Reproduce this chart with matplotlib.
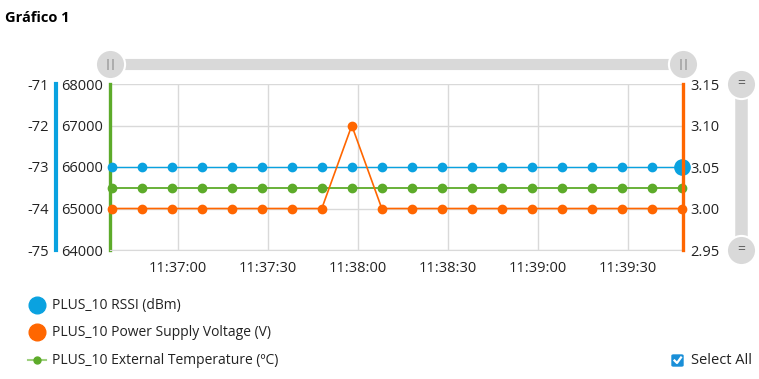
import datetime as dt
import matplotlib
matplotlib.use('Agg')
import matplotlib.pyplot as plt
import matplotlib.dates as mdates
from matplotlib.lines import Line2D
from matplotlib.patches import FancyBboxPatch

plt.rcParams['font.family'] = ['Open Sans', 'DejaVu Sans']
plt.rcParams['font.size'] = 10.5
plt.rcParams['axes.unicode_minus'] = False

# data (one sample every 10 s)
start = dt.datetime(2024, 1, 1, 11, 36, 38)
times = [start + dt.timedelta(seconds=10 * i) for i in range(20)]
rssi = [-73] * 20
voltage = [3.00] * 8 + [3.10] + [3.00] * 11
temperature = [65500] * 20

blue = '#0aa2e0'
orange = '#ff6600'
green = '#5dab2a'
W, H = 759, 379


def fx(px):
    return px / W


def fy(py):
    return 1 - py / H


fig = plt.figure(figsize=(W / 100, H / 100), dpi=100)

# main axis (temperature, 64000-68000)
ax = fig.add_axes([fx(110), fy(250), fx(683) - fx(110), fy(84) - fy(250)])
ax.set_ylim(64000, 68000)
ax.set_yticks([64000, 65000, 66000, 67000, 68000])
ax.set_xlim(times[0] - dt.timedelta(seconds=0.6), times[-1] + dt.timedelta(seconds=0.4))
ax.xaxis.set_major_locator(mdates.SecondLocator(bysecond=[0, 30]))
ax.xaxis.set_major_formatter(mdates.DateFormatter('%H:%M:%S'))
ax.grid(True, color='#d9d9d9', lw=1)
ax.set_axisbelow(True)
for s in ['top', 'right']:
    ax.spines[s].set_visible(False)
ax.spines['bottom'].set_color('#d9d9d9')
ax.spines['left'].set_color(green)
ax.spines['left'].set_linewidth(2.4)
ax.tick_params(length=0, pad=5, labelsize=10.5, colors='#222222')
ax.tick_params(axis='x', pad=8)

# rssi axis (outer left)
ax_r = ax.twinx()
ax_r.set_ylim(-75, -71)
ax_r.set_yticks([-75, -74, -73, -72, -71])
ax_r.yaxis.set_label_position('left')
ax_r.yaxis.tick_left()
ax_r.spines['left'].set_position(('axes', (56 - 110) / 573))
ax_r.spines['left'].set_color(blue)
ax_r.spines['left'].set_linewidth(3)
for s in ['top', 'right', 'bottom']:
    ax_r.spines[s].set_visible(False)
ax_r.tick_params(length=0, pad=5, labelsize=10.5, colors='#222222')

# voltage axis (right)
ax_v = ax.twinx()
ax_v.set_ylim(2.95, 3.15)
ax_v.set_yticks([2.95, 3.00, 3.05, 3.10, 3.15])
ax_v.yaxis.set_major_formatter(matplotlib.ticker.FormatStrFormatter('%.2f'))
ax_v.spines['right'].set_color(orange)
ax_v.spines['right'].set_linewidth(2.4)
for s in ['top', 'left', 'bottom']:
    ax_v.spines[s].set_visible(False)
ax_v.tick_params(length=0, pad=5, labelsize=10.5, colors='#222222')

ax.plot(times, temperature, color=green, lw=1.3, marker='o', ms=6, clip_on=False, zorder=3)
ax_v.plot(times, voltage, color=orange, lw=1.2, marker='o', ms=6, clip_on=False, zorder=3)
ax_r.plot(times, rssi, color=blue, lw=1.0, marker='o', ms=6, clip_on=False, zorder=3)
ax_r.plot(times[-1:], rssi[-1:], color=blue, marker='o', ms=11, ls='none', clip_on=False, zorder=4)

# title
fig.text(fx(5), fy(18), 'Gráfico 1', fontsize=10.5, fontweight='bold', va='center', ha='left')

# range sliders
grey = '#d9d9d9'
fig.add_artist(Line2D([fx(110), fx(683)], [fy(64), fy(64)], color=grey, lw=8, solid_capstyle='round'))
for px in (110, 683):
    fig.add_artist(Line2D([fx(px)], [fy(64)], marker='o', ms=21, color=grey, mec='white', mew=1.5))
    fig.text(fx(px), fy(64), '||', ha='center', va='center', fontsize=8, color='#666666')
fig.add_artist(Line2D([fx(741), fx(741)], [fy(84), fy(250)], color=grey, lw=9, solid_capstyle='round'))
for py in (84, 250):
    fig.add_artist(Line2D([fx(741)], [fy(py)], marker='o', ms=21, color=grey, mec='white', mew=1.5))
    fig.text(fx(741), fy(py), '=', ha='center', va='center', fontsize=10, color='#666666')

# legend
labels = ['PLUS_10 RSSI (dBm)', 'PLUS_10 Power Supply Voltage (V)', 'PLUS_10 External Temperature (ºC)']
fig.add_artist(Line2D([fx(37)], [fy(305)], marker='o', ms=12, color=blue))
fig.add_artist(Line2D([fx(37)], [fy(332)], marker='o', ms=12, color=orange))
fig.add_artist(Line2D([fx(28), fx(46)], [fy(360), fy(360)], color='#9fd07f', lw=1.5))
fig.add_artist(Line2D([fx(37)], [fy(360)], marker='o', ms=5, color=green))
for py, lab in zip((305, 332, 360), labels):
    fig.text(fx(52), fy(py), lab, ha='left', va='center', fontsize=10, color='#222222')

# select all checkbox
fig.add_artist(FancyBboxPatch((fx(672), fy(366)), fx(11), fy(355) - fy(366),
                              boxstyle='round,pad=0,rounding_size=0.002', color='#1a8fd8',
                              transform=fig.transFigure))
fig.add_artist(Line2D([fx(674.5), fx(677), fx(681)], [fy(360.5), fy(363), fy(357.5)],
                      color='white', lw=1.6))
fig.text(fx(691), fy(361), 'Select All', ha='left', va='center', fontsize=10.5, color='#222222')

fig.savefig('out.png', dpi=100)
